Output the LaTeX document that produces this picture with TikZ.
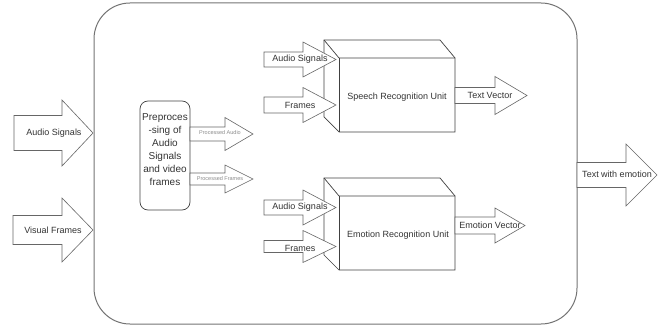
\documentclass[tikz,border=0pt]{standalone}
\usepackage{fontspec}
\setmainfont{Liberation Sans}
\definecolor{ln}{HTML}{666666}
\definecolor{tx}{HTML}{333333}
\newcommand\blkarrow[6]{\draw[blk] (#1,{#4-#5}) -- (#2,{#4-#5}) -- (#2,{#4-#6}) -- (#3,#4) -- (#2,{#4+#6}) -- (#2,{#4+#5}) -- (#1,{#4+#5}) -- cycle;}
\newcommand\cubeshape[1]{%
  \draw[cub] (324,#1) -- (440,#1) -- (455,{#1+18}) -- (455,{#1+92}) -- (339,{#1+92}) -- (324,{#1+77}) -- cycle;
  \draw[cub] (324,#1) -- (339,{#1+18}) -- (455,{#1+18});
  \draw[cub] (339,{#1+18}) -- (339,{#1+92});}
\begin{document}
\begin{tikzpicture}[x=1pt,y=-1pt,
  blk/.style={draw=ln,fill=white,line width=0.6pt,line join=miter},
  cub/.style={draw=black!75,line width=0.7pt},
  lbl/.style={text=tx,font=\fontsize{9}{10}\selectfont,inner sep=0pt},
  sml/.style={text=black!45,font=\fontsize{5.5}{6}\selectfont,inner sep=0pt}]
\useasboundingbox (0,0) rectangle (663,326);
% outer container
\draw[draw=black!55,line width=1pt,rounded corners=36pt] (94,3) rectangle (577,324);
% input arrows
\blkarrow{14}{62}{93}{133}{17.5}{33}
\node[lbl] (ain) at (54,133) {Audio Signals};
\blkarrow{13}{62}{93}{230}{14.5}{32}
\node[lbl] (vin) at (53,230) {Visual Frames};
% preprocessing
\draw[draw=black!75,line width=0.7pt,rounded corners=8pt] (140,101) rectangle (190,210);
\node[text=tx,font=\fontsize{10}{13}\selectfont,align=center,inner sep=0pt] (pre) at (165,150)
  {Preproces\\-sing of\\Audio\\Signals\\and video\\frames};
\blkarrow{190}{225}{253}{134}{7}{16.5}
\node[sml] (pa) at (220,133) {Processed Audio};
\blkarrow{190}{225}{253}{179}{6}{14}
\node[sml] (pf) at (220,178.5) {Processed Frames};
% speech unit
\cubeshape{40}
\node[lbl] (sru) at (397,97) {Speech Recognition Unit};
\blkarrow{264}{303}{336}{59.5}{7.5}{17.5}
\node[lbl] (sa) at (300,59) {Audio Signals};
\blkarrow{264}{303}{336}{105}{8}{17.5}
\node[lbl] (sf) at (300,105) {Frames};
\blkarrow{455}{495}{527}{95.5}{8}{19}
\node[lbl] (tv) at (490,95.5) {Text Vector};
% emotion unit
\cubeshape{178}
\node[lbl] (eru) at (398,235) {Emotion Recognition Unit};
\blkarrow{264}{303}{336}{207.5}{7.5}{17.5}
\node[lbl] (ea) at (300,207) {Audio Signals};
\blkarrow{264}{303}{336}{246.5}{6}{16}
\node[lbl] (ef) at (300,248) {Frames};
\blkarrow{455}{495}{525}{225.5}{8.5}{17.5}
\node[lbl] (ev) at (490,225) {Emotion Vector};
% output
\blkarrow{577}{626}{657}{175}{12.5}{31}
\node[lbl] (out) at (617,174) {Text with emotion};
\end{tikzpicture}
\end{document}
